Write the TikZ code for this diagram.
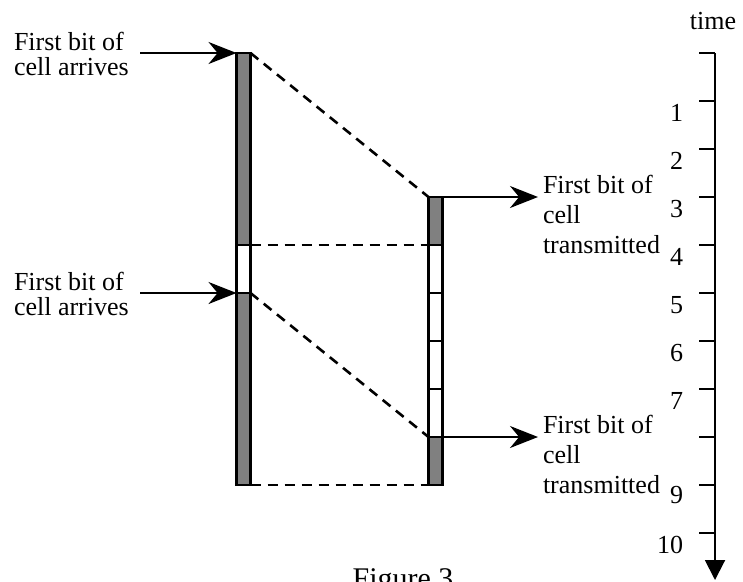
\documentclass[tikz,border=0pt]{standalone}
\usepackage{fontspec}
\setmainfont{Liberation Serif}
\usetikzlibrary{arrows.meta,positioning}

\begin{document}
\begin{tikzpicture}[x=1pt,y=-1pt,>={Stealth[length=28pt,width=22pt]},
                    line width=2pt]
\tikzstyle{cellbox}=[draw=black,line width=2.8pt,inner sep=0pt,outer sep=0pt,
                     minimum width=14pt,minimum height=48pt,fill=white]
\tikzstyle{graycell}=[cellbox,fill=gray]
\tikzstyle{bitlabel}=[inner sep=0pt,align=left,anchor=base west,
                      font=\fontsize{26}{24.5}\selectfont]
\tikzstyle{txlabel}=[bitlabel,font=\fontsize{26}{30}\selectfont]
\tikzstyle{ticklabel}=[inner sep=0pt,anchor=base east,font=\fontsize{26}{28}\selectfont]
\tikzstyle{linkline}=[dash pattern=on 10pt off 7pt,line width=2.6pt]

        \useasboundingbox (0,0) rectangle (743,581);

        % input stream
        \node[graycell,minimum height=192pt]          (a1) at (243.5,149) {};
        \node[cellbox]                                (a2) [below=0pt of a1] {};
        \node[graycell,minimum height=192pt]          (a3) [below=0pt of a2] {};

        % output stream
        \node[graycell]                               (b1) at (435.5,221) {};
        \node[cellbox]                                (b2) [below=0pt of b1] {};
        \node[cellbox]                                (b3) [below=0pt of b2] {};
        \node[cellbox]                                (b4) [below=0pt of b3] {};
        \node[cellbox]                                (b5) [below=0pt of b4] {};
        \node[graycell]                               (b6) [below=0pt of b5] {};

        \node[bitlabel]   (in1)  at (13,75)   {First bit of\\cell arrives};
        \node[bitlabel]   (in2)  at (13,315)  {First bit of\\cell arrives};
        \node[txlabel]    (out1) at (542,253) {First bit of\\cell\\transmitted};
        \node[txlabel]    (out2) at (542,493) {First bit of\\cell\\transmitted};

        \coordinate (s1) at (140,53);
        \coordinate (s2) at (140,293);
        \coordinate (e1) at (538,197);
        \coordinate (e2) at (538,437);

        \path[->]
        (s1)             edge (a1.north west)
        (s2)             edge (a3.north west)
        (b1.north east)  edge (e1)
        (b6.north east)  edge (e2)
        ; %end path

        \draw[linkline] (a1.north east) -- (b1.north west);
        \draw[linkline] (a2.north east) -- (b2.north west);
        \draw[linkline] (a3.north east) -- (b6.north west);
        \draw[linkline] (a3.south east) -- (b6.south west);

        % time axis
        \coordinate (t0)  at (715,53);
        \coordinate (t11) at (715,580);
        \draw[-{Triangle[width=20pt,length=20pt]}] (t0) -- (t11);
        \draw (699,53)  -- (715,53);
        \draw (699,101) -- (715,101);
        \draw (699,149) -- (715,149);
        \draw (699,197) -- (715,197);
        \draw (699,245) -- (715,245);
        \draw (699,293) -- (715,293);
        \draw (699,341) -- (715,341);
        \draw (699,389) -- (715,389);
        \draw (699,437) -- (715,437);
        \draw (699,485) -- (715,485);
        \draw (699,533) -- (715,533);

        \node[ticklabel] (n1)  at (684,121) {1};
        \node[ticklabel] (n2)  at (684,169) {2};
        \node[ticklabel] (n3)  at (684,217) {3};
        \node[ticklabel] (n4)  at (684,265) {4};
        \node[ticklabel] (n5)  at (684,313) {5};
        \node[ticklabel] (n6)  at (684,361) {6};
        \node[ticklabel] (n7)  at (684,409) {7};
        \node[ticklabel] (n9)  at (684,503) {9};
        \node[ticklabel] (n10) at (684,553) {10};

        \node[inner sep=0pt,anchor=base,font=\fontsize{26}{28}\selectfont] (time) at (713,29) {time};
        \node[inner sep=0pt,anchor=base,font=\fontsize{30}{34}\selectfont] (fig) at (403,588) {Figure 3};

\end{tikzpicture}
\end{document}
